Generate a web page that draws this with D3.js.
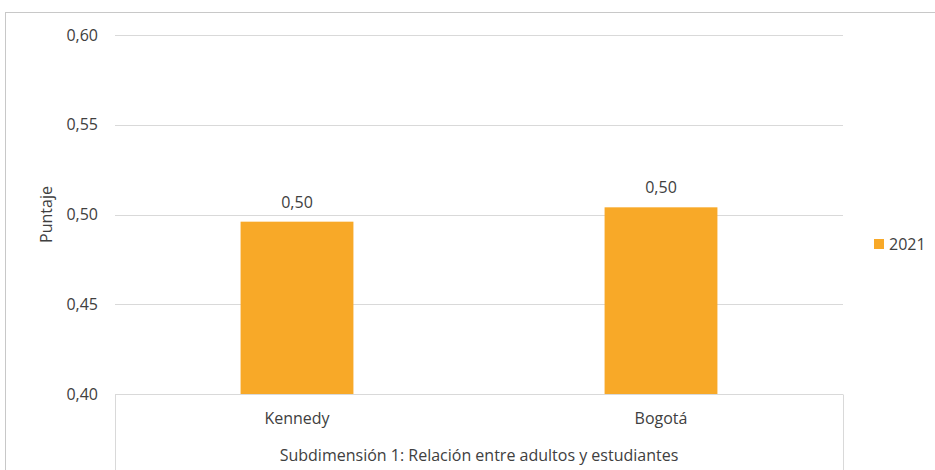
<!DOCTYPE html>
<html>
<head>
<meta charset="utf-8">
<script src="https://cdn.jsdelivr.net/npm/d3@7"></script>
<style>
  body { margin: 0; background: #fff; }
  text { font-family: "Open Sans", sans-serif; fill: #404040; }
</style>
</head>
<body>
<div id="svganchor"></div>
<script>
let width = 935, height = 470;

let categories = ["Kennedy", "Bogotá"];
let values2021 = [0.496, 0.504];
let valueLabels = ["0,50", "0,50"];
let tickValues = [0.40, 0.45, 0.50, 0.55, 0.60];
let seriesName = "2021";
let xTitleText = "Subdimensión 1: Relación entre adultos y estudiantes";
let yTitleText = "Puntaje";

let margin = ({top: 35, right: 92, bottom: 76, left: 115});
let barColor = "#f8a928";
let fontSize = "16px";
let fmt = d => d.toFixed(2).replace(".", ",");

let svg = d3.select("#svganchor")
    .append("svg")
    .attr("width", width)
    .attr("height", height);

// outer chart frame
svg.append("rect")
    .attr("x", 5.5)
    .attr("y", 12.5)
    .attr("width", 940)
    .attr("height", 470)
    .attr("fill", "none")
    .attr("stroke", "#c8c8c8");

let xScale = d3.scaleBand()
    .domain(categories)
    .range([margin.left, width - margin.right])
    .paddingInner(0.69)
    .paddingOuter(0.345);

let yScale = d3.scaleLinear()
    .domain([0.40, 0.60])
    .range([height - margin.bottom, margin.top]);

// gridlines
svg.append("g")
    .selectAll("line")
    .data(tickValues.slice(1))
    .enter()
    .append("line")
    .attr("x1", margin.left)
    .attr("x2", width - margin.right)
    .attr("y1", d => Math.round(yScale(d)) + 0.5)
    .attr("y2", d => Math.round(yScale(d)) + 0.5)
    .attr("stroke", "#d9d9d9")
    .attr("stroke-width", 1);

// y axis labels
let yAxis = d3.axisLeft(yScale)
    .tickValues(tickValues)
    .tickFormat(fmt)
    .tickSize(0)
    .tickPadding(17);

let gY = svg.append("g")
    .attr("transform", `translate(${margin.left},0)`)
    .call(yAxis);
gY.select(".domain").remove();
gY.selectAll("text")
    .style("font-family", "'Open Sans', sans-serif")
    .style("font-size", fontSize)
    .attr("fill", "#404040");

// bars
svg.selectAll(".bar")
    .data(values2021)
    .enter()
    .append("rect")
    .attr("class", "bar")
    .attr("x", (d, i) => xScale(categories[i]))
    .attr("y", d => yScale(d))
    .attr("width", xScale.bandwidth())
    .attr("height", d => yScale(0.40) - yScale(d))
    .attr("fill", barColor);

// value labels
svg.selectAll(".vlabel")
    .data(values2021)
    .enter()
    .append("text")
    .attr("class", "vlabel")
    .attr("text-anchor", "middle")
    .attr("x", (d, i) => xScale(categories[i]) + xScale.bandwidth() / 2)
    .attr("y", d => yScale(d) - 14)
    .style("font-size", fontSize)
    .text((d, i) => valueLabels[i]);

// category axis box
let axisY = Math.round(yScale(0.40)) + 0.5;
let axisBox = svg.append("g");
axisBox.append("line")
    .attr("x1", margin.left).attr("x2", width - margin.right)
    .attr("y1", axisY).attr("y2", axisY)
    .attr("stroke", "#d9d9d9");
[margin.left, width - margin.right].forEach(function(x) {
    axisBox.append("line")
        .attr("x1", x + 0.5).attr("x2", x + 0.5)
        .attr("y1", axisY).attr("y2", height)
        .attr("stroke", "#d9d9d9");
});

svg.selectAll(".clabel")
    .data(categories)
    .enter()
    .append("text")
    .attr("class", "clabel")
    .attr("text-anchor", "middle")
    .attr("x", d => xScale(d) + xScale.bandwidth() / 2)
    .attr("y", axisY + 29)
    .style("font-size", fontSize)
    .text(d => d);

svg.append("text")
    .attr("text-anchor", "middle")
    .attr("x", (margin.left + width - margin.right) / 2)
    .attr("y", axisY + 66)
    .style("font-size", fontSize)
    .text(xTitleText);

// y title
svg.append("text")
    .attr("text-anchor", "middle")
    .attr("transform", `translate(52,${(margin.top + height - margin.bottom) / 2}) rotate(-90)`)
    .style("font-size", fontSize)
    .text(yTitleText);

// legend
svg.append("rect")
    .attr("x", 874)
    .attr("y", 239)
    .attr("width", 10)
    .attr("height", 10)
    .attr("fill", barColor);
svg.append("text")
    .attr("x", 889)
    .attr("y", 250)
    .style("font-size", fontSize)
    .text(seriesName);
</script>
</body>
</html>
